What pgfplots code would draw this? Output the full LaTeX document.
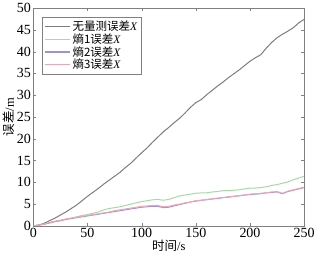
\documentclass[border=0pt]{standalone}
\usepackage{pgfplots}
\pgfplotsset{compat=1.18}
\usepackage{fontspec}
\setmainfont{Liberation Serif}
\newfontfamily\cjk{Noto Sans CJK SC}
\definecolor{cgray}{RGB}{125,125,125}
\definecolor{cgreen}{RGB}{165,218,165}
\definecolor{cpurple}{RGB}{160,145,215}
\definecolor{cred}{RGB}{238,165,180}
\begin{document}
\begin{tikzpicture}
\begin{axis}[
  scale only axis,
  width=271pt, height=218pt,
  xmin=0, xmax=250, ymin=0, ymax=50,
  xtick={0,50,100,150,200,250},
  ytick={0,5,10,15,20,25,30,35,40,45,50},
  tick align=inside,
  major tick length=3pt,
  axis line style={color=black!50},
  tick style={color=black!50},
  /pgf/number format/assume math mode=true,
  ticklabel style={font=\fontsize{14}{14}\selectfont},
  xticklabel style={yshift=1pt},
  yticklabel style={xshift=1pt},
  xlabel={{\cjk 时间}/s},
  ylabel={{\cjk 误差}/m},
  label style={font=\fontsize{12.5}{12.5}\selectfont},
  xlabel style={yshift=5pt},
  ylabel style={yshift=-5pt},
  legend cell align=left,
  legend style={at={(0.033,0.96)}, anchor=north west, draw=black!50,
     font=\fontsize{11.5}{11.5}\selectfont, row sep=-2.5pt, inner sep=2pt},
  legend image code/.code={\draw[#1, line width=1.2pt] (0pt,0pt) -- (25pt,0pt);},
]
\addplot[cgray, line width=1pt] coordinates {
(0,0) (5,0.2) (10,0.6) (15,1.2) (20,1.8) (25,2.5) (30,3.2) (35,4.0) (40,4.8) (45,5.8) (50,6.8)
(55,7.7) (60,8.6) (65,9.6) (70,10.5) (75,11.4) (80,12.3) (85,13.4) (90,14.4) (95,15.6) (100,16.8)
(105,17.9) (110,19.2) (115,20.4) (120,21.6) (125,22.6) (130,23.7) (135,24.7) (140,25.9) (145,27.2) (150,28.3)
(155,29.0) (160,30.1) (165,31.1) (170,32.1) (175,33.0) (180,34.0) (185,34.9) (190,35.8) (195,36.8) (200,37.8)
(205,38.6) (210,39.3) (215,40.8) (220,42.1) (225,43.2) (230,44.0) (235,44.7) (240,45.5) (245,46.6) (250,47.4)
};
\addlegendentry{{\cjk 无量测误差}\textit{X}}
\addplot[cgreen, line width=1pt] coordinates {
(0,0) (5,0.2) (10,0.4) (15,0.7) (20,1.0) (25,1.3) (30,1.5) (35,1.8) (40,2.1) (45,2.4) (50,2.6)
(55,2.9) (60,3.2) (65,3.7) (70,4.0) (75,4.2) (80,4.4) (85,4.7) (90,5.0) (95,5.3) (100,5.6)
(105,5.8) (110,6.0) (115,6.1) (120,5.9) (125,6.1) (130,6.5) (135,6.9) (140,7.1) (145,7.3) (150,7.5)
(155,7.6) (160,7.6) (165,7.8) (170,7.9) (175,8.1) (180,8.1) (185,8.2) (190,8.3) (195,8.5) (200,8.7)
(205,8.7) (210,8.8) (215,9.0) (220,9.3) (225,9.5) (230,9.8) (235,10.1) (240,10.6) (245,11.0) (250,11.4)
};
\addlegendentry{{\cjk 熵1误差}\textit{X}}
\addplot[cpurple, line width=1pt] coordinates {
(0,0) (5,0.2) (10,0.4) (15,0.7) (20,1.0) (25,1.2) (30,1.5) (35,1.7) (40,1.9) (45,2.1) (50,2.3)
(55,2.5) (60,2.7) (65,2.9) (70,3.1) (75,3.3) (80,3.5) (85,3.7) (90,3.9) (95,4.1) (100,4.3)
(105,4.4) (110,4.5) (115,4.5) (120,4.2) (125,4.3) (130,4.6) (135,4.9) (140,5.2) (145,5.5) (150,5.7)
(155,5.9) (160,6.0) (165,6.2) (170,6.3) (175,6.5) (180,6.6) (185,6.8) (190,6.9) (195,7.1) (200,7.2)
(205,7.3) (210,7.4) (215,7.6) (220,7.7) (225,7.8) (230,7.4) (235,7.9) (240,8.2) (245,8.5) (250,8.8)
};
\addlegendentry{{\cjk 熵2误差}\textit{X}}
\addplot[cred, line width=1pt] coordinates {
(0,0) (5,0.2) (10,0.4) (15,0.8) (20,1.1) (25,1.3) (30,1.6) (35,1.8) (40,2.0) (45,2.2) (50,2.4)
(55,2.6) (60,2.8) (65,3.0) (70,3.2) (75,3.5) (80,3.7) (85,3.9) (90,4.1) (95,4.3) (100,4.5)
(105,4.6) (110,4.7) (115,4.7) (120,4.4) (125,4.5) (130,4.8) (135,5.0) (140,5.3) (145,5.5) (150,5.8)
(155,5.9) (160,6.1) (165,6.2) (170,6.4) (175,6.5) (180,6.7) (185,6.8) (190,7.0) (195,7.1) (200,7.3)
(205,7.4) (210,7.5) (215,7.6) (220,7.8) (225,7.9) (230,7.5) (235,8.0) (240,8.3) (245,8.6) (250,8.9)
};
\addlegendentry{{\cjk 熵3误差}\textit{X}}
\end{axis}
\end{tikzpicture}
\end{document}
